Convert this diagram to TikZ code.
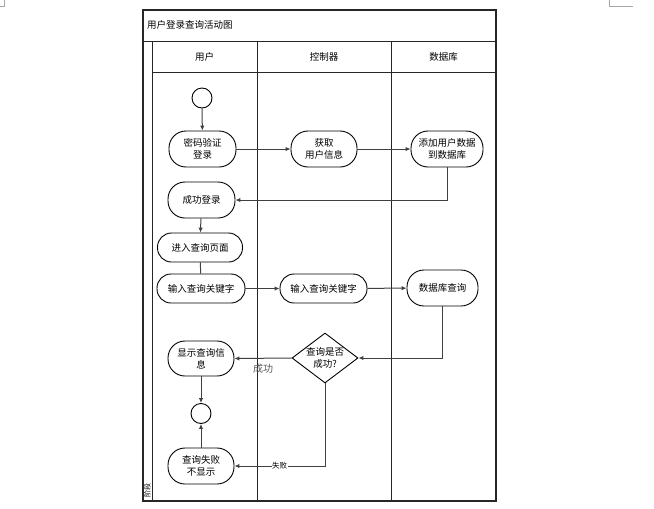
\documentclass[tikz,border=0pt]{standalone}
\usepackage{fontspec}
\setmainfont{Noto Sans CJK SC}
\usetikzlibrary{shapes.geometric,arrows.meta}
\tikzset{
  x=1pt, y=-1pt,
  frame/.style={draw=black!85, line width=1.1pt},
  lane/.style={draw=black!85, line width=1pt},
  txt/.style={font=\fontsize{9.5}{12}\selectfont, inner sep=0pt},
  act/.style={draw=black, line width=0.9pt, fill=white, rounded corners=17pt, minimum width=67pt, minimum height=36pt, inner sep=1pt, align=center, font=\fontsize{9.5}{12}\selectfont},
  actsm/.style={act, rounded corners=14pt, minimum height=29pt},
  startend/.style={draw=black, line width=0.9pt, fill=white, circle, minimum size=20pt, inner sep=0pt},
  decision/.style={draw=black, line width=0.9pt, fill=white, diamond, minimum width=66pt, minimum height=50pt, inner sep=0pt},
  conn/.style={draw=black!75, line width=1pt},
  arr/.style={conn, -{Latex[length=5pt,width=4.5pt]}},
  corner/.style={draw=black!35, line width=0.6pt}
}
\begin{document}
\begin{tikzpicture}
\useasboundingbox (0,0) rectangle (654,509);
% page corner marks
\draw[corner] (4,0) -- (4,6) -- (0,6);
\draw[corner] (609,0) -- (609,6) -- (633,6);
% swimlane frame
\draw[frame] (143,10) rectangle (496,501);
\draw[lane] (143,41) -- (496,41);
\draw[lane] (152,41) -- (152,501);
\draw[lane] (152,72) -- (496,72);
\draw[lane] (257,41) -- (257,501);
\draw[lane] (391,41) -- (391,501);
\node[txt, anchor=west] (title) at (147,25) {用户登录查询活动图};
\node[txt] (h1) at (204.5,56.5) {用户};
\node[txt] (h2) at (324,56.5) {控制器};
\node[txt] (h3) at (443.5,56.5) {数据库};
\node[font=\fontsize{7}{8}\selectfont, inner sep=0pt, rotate=90] (phase) at (147.5,490) {阶段};
% nodes
\node[startend] (start) at (202,98) {};
\node[act] (login) at (202.5,149) {密码验证\\登录};
\node[act, minimum width=66pt] (getinfo) at (324,149) {获取\\用户信息};
\node[act, minimum width=72pt] (adddb) at (447,149) {添加用户数据\\到数据库};
\node[act] (okl) at (201.5,200) {成功登录};
\node[actsm, minimum width=85pt] (enter) at (200,247.5) {进入查询页面};
\node[actsm, minimum width=88pt] (key1) at (201,288.5) {输入查询关键字};
\node[actsm, minimum width=87pt] (key2) at (323.5,288.5) {输入查询关键字};
\node[act, minimum width=71pt] (dbq) at (442.5,288) {数据库查询};
\node[decision, label={[align=center, font=\fontsize{9.5}{12}\selectfont]center:查询是否\\成功?}] (dec) at (325,358) {};
\node[act, minimum width=66pt, minimum height=35pt] (show) at (201,358.5) {显示查询信\\息};
\node[startend] (endc) at (201,413.5) {};
\node[act, minimum width=66pt] (fail) at (201,466) {查询失败\\不显示};
% connectors
\draw[arr] (start) -- (login);
\draw[arr] (login) -- (getinfo);
\draw[arr] (getinfo) -- (adddb);
\draw[arr] (adddb.south) |- (okl.east);
\draw[arr] (okl) -- (enter);
\draw[conn] (enter) -- (key1);
\draw[arr] (key1) -- (key2);
\draw[arr] (key2) -- (dbq);
\draw[arr] (dbq.south) |- (dec.east);
\draw[arr] (dec.west) -- node[below=5pt, pos=0.5, inner sep=0pt, text=black!65, font=\fontsize{10}{12}\selectfont] {成功} (show.east);
\draw[arr] (dec.south) |- node[pos=0.75, fill=white, inner sep=0.5pt, font=\fontsize{7.5}{9}\selectfont] {失败} (fail.east);
\draw[arr] (show) -- (endc);
\draw[arr] (fail) -- (endc);
\end{tikzpicture}
\end{document}
